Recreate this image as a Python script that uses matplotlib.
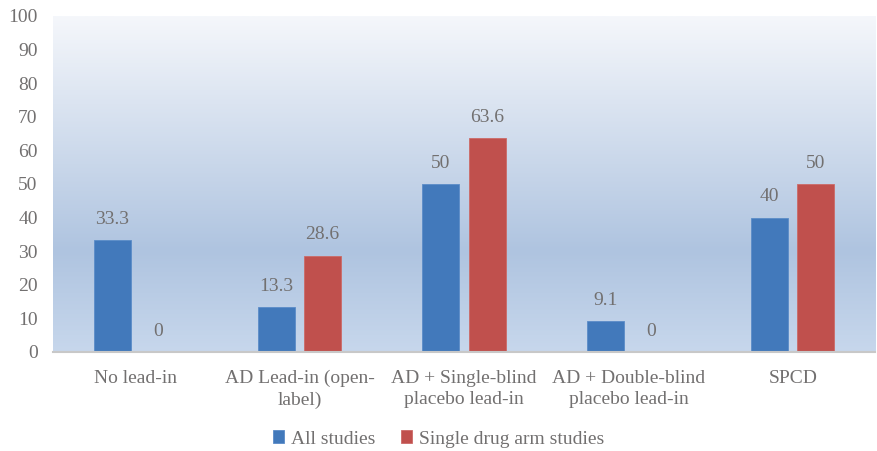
import matplotlib.pyplot as plt
import numpy as np
from matplotlib.colors import LinearSegmentedColormap

plt.rcParams['font.family'] = ['Liberation Serif', 'DejaVu Serif']

categories = ["No lead-in", "AD Lead-in (open-\nlabel)", "AD + Single-blind\nplacebo lead-in",
              "AD + Double-blind\nplacebo lead-in", "SPCD"]
all_studies = [33.3, 13.3, 50, 9.1, 40]
single_arm = [0, 28.6, 63.6, 0, 50]
series_names = ["All studies", "Single drug arm studies"]

blue = '#4279BB'
red = '#C0504D'
text_gray = '#727070'
fs = 14

fig = plt.figure(figsize=(8.77, 4.51), dpi=100)
ax = fig.add_axes([53 / 877, 1 - 352 / 451, 822 / 877, 336 / 451])

# vertical gradient fill behind the bars
grad = LinearSegmentedColormap.from_list(
    'bg', [(0.0, '#C7D7EC'), (0.3, '#AFC4E0'), (1.0, '#F5F7FB')])
ax.imshow(np.linspace(0, 1, 256).reshape(-1, 1), cmap=grad, aspect='auto',
          extent=[-0.5, 4.5, 0, 100], origin='lower', zorder=0)

x = np.arange(len(categories))
w = 0.225
off = 0.14
b1 = ax.bar(x - off, all_studies, w, color=blue, edgecolor='#5B8CC8', linewidth=0.6,
            label=series_names[0], zorder=2)
b2 = ax.bar(x + off, single_arm, w, color=red, edgecolor='#CC6A67', linewidth=0.6,
            label=series_names[1], zorder=2)

for bars, vals in ((b1, all_studies), (b2, single_arm)):
    for rect, v in zip(bars, vals):
        ax.annotate(f"{v:g}", (rect.get_x() + rect.get_width() / 2, v),
                    xytext=(0, 9), textcoords='offset points', ha='center', va='bottom',
                    fontsize=fs, color=text_gray)

ax.set_xlim(-0.5, 4.5)
ax.set_ylim(0, 100)
ax.set_yticks(range(0, 101, 10))
ax.set_xticks(x)
ax.set_xticklabels(categories, fontsize=fs, color=text_gray, linespacing=1.3)
ax.tick_params(axis='y', labelsize=fs, labelcolor=text_gray, length=0, pad=11)
ax.tick_params(axis='x', length=0, pad=13)
for s in ['top', 'right', 'left']:
    ax.spines[s].set_visible(False)
ax.spines['bottom'].set_color('#C8C8C8')
ax.spines['bottom'].set_linewidth(1.5)

leg = fig.legend(handles=[b1, b2], loc='center', bbox_to_anchor=(0.5, 1 - 439 / 451),
                 ncol=2, frameon=False, fontsize=fs, handlelength=0.6, handleheight=0.6,
                 handletextpad=0.35, columnspacing=1.3)
for t in leg.get_texts():
    t.set_color(text_gray)

fig.savefig('out.png', dpi=100)
